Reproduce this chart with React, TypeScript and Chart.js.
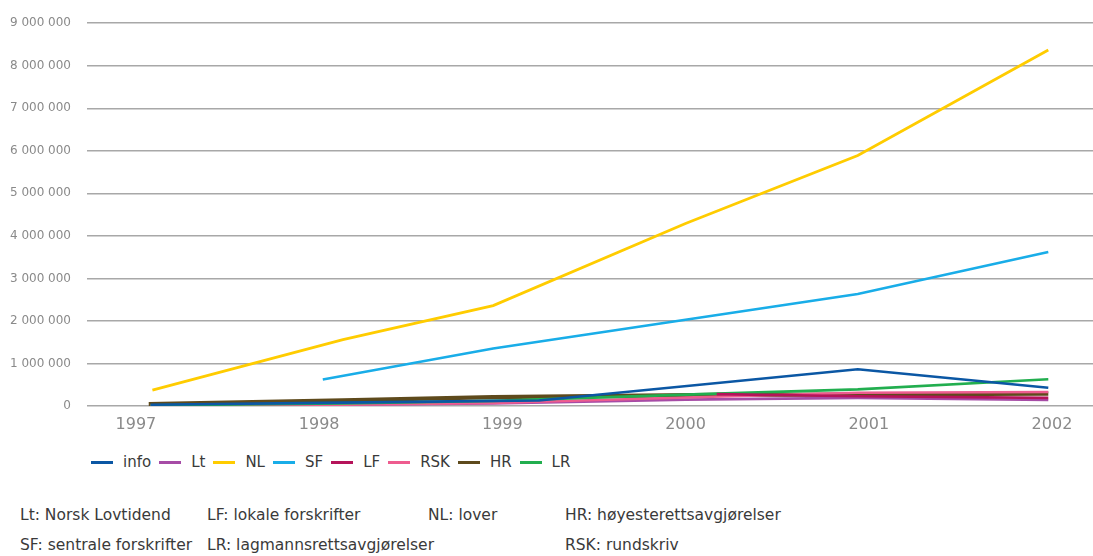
import React, { useEffect, useRef } from "react";
import { Chart, registerables } from "chart.js";

Chart.register(...registerables);

const seriesNames = ["info", "Lt", "NL", "SF", "LF", "RSK", "HR", "LR"];
const seriesColors = ["#0B57A4", "#A64CA6", "#FFCC00", "#19ADE8", "#B5135A", "#EE5C8F", "#5E4A1C", "#22AE4F"];

const infoX = [1997.08, 1998.13, 1998.95, 1999.2, 2000.94, 2001.98];
const infoY = [30000, 80000, 120000, 130000, 865000, 430000];
const ltX = [1997.13, 1998.13, 1998.95, 2000.0, 2000.94, 2001.98];
const ltY = [25000, 30000, 60000, 150000, 190000, 140000];
const nlX = [1997.09, 1998.13, 1998.95, 2000.0, 2000.94, 2001.98];
const nlY = [374000, 1560000, 2360000, 4290000, 5890000, 8370000];
const sfX = [1998.02, 1998.95, 2000.94, 2001.98];
const sfY = [624000, 1350000, 2634000, 3620000];
const lfX = [2000.17, 2000.94, 2001.98];
const lfY = [280000, 230000, 190000];
const rskX = [1997.08, 1998.13, 1998.95, 2000.0, 2000.94, 2001.98];
const rskY = [10000, 30000, 70000, 200000, 310000, 330000];
const hrX = [1997.07, 1998.13, 1998.95, 2000.17, 2000.94, 2001.98];
const hrY = [45000, 130000, 210000, 260000, 270000, 290000];
const lrX = [1997.08, 1998.13, 1998.95, 2000.17, 2000.94, 2001.98];
const lrY = [15000, 60000, 120000, 290000, 390000, 630000];

const xTickYears = [1997, 1998, 1999, 2000, 2001, 2002];
const yMax = 9000000;
const yStep = 1000000;

const footRow1 = ["Lt: Norsk Lovtidend", "LF: lokale forskrifter", "NL: lover", "HR: høyesterettsavgjørelser"];
const footRow2 = ["SF: sentrale forskrifter", "LR: lagmannsrettsavgjørelser", "", "RSK: rundskriv"];

const seriesX = [infoX, ltX, nlX, sfX, lfX, rskX, hrX, lrX];
const seriesY = [infoY, ltY, nlY, sfY, lfY, rskY, hrY, lrY];
const widths = [2.6, 2.6, 2.8, 2.6, 2.6, 2.6, 4.2, 2.6];
const orders = [2, 5, 1, 1, 0, 3, 4, 2];

const FONT = "'DejaVu Sans', sans-serif";

function fmt(v: number) {
  return String(v).replace(/\B(?=(\d{3})+(?!\d))/g, " ");
}

export default function App() {
  const ref = useRef<HTMLCanvasElement | null>(null);

  useEffect(() => {
    if (!ref.current) return;
    const datasets = seriesNames.map((name, i) => ({
      label: name,
      data: seriesX[i].map((x, j) => ({ x, y: seriesY[i][j] })),
      borderColor: seriesColors[i],
      backgroundColor: seriesColors[i],
      borderWidth: widths[i],
      pointRadius: 0,
      tension: 0,
      fill: false,
      order: orders[i],
    }));
    const chart = new Chart(ref.current, {
      type: "line",
      data: { datasets },
      options: {
        animation: false,
        responsive: false,
        maintainAspectRatio: false,
        layout: { padding: { top: 22, left: 0, right: 0, bottom: 0 } },
        plugins: { legend: { display: false }, tooltip: { enabled: false } },
        scales: {
          x: {
            type: "linear",
            min: 1996.733,
            max: 2002.224,
            afterBuildTicks: (s: any) => {
              s.ticks = xTickYears.map((v) => ({ value: v }));
            },
            afterFit: (s: any) => {
              s.height = 34;
            },
            grid: { display: false, drawTicks: false },
            border: { display: false },
            ticks: {
              color: "#8a8a8a",
              font: { family: FONT, size: 16 },
              padding: 9,
              maxRotation: 0,
              autoSkip: false,
              callback: (v: any) => String(v),
            },
          },
          y: {
            min: 0,
            max: yMax,
            afterFit: (s: any) => {
              s.width = 87;
            },
            grid: { color: "#a8a8a8", lineWidth: 1.5, drawTicks: false },
            border: { display: false },
            ticks: {
              stepSize: yStep,
              color: "#8a8a8a",
              font: { family: FONT, size: 12 },
              padding: 16,
              callback: (v: any) => fmt(Number(v)),
            },
          },
        },
      },
    });
    return () => chart.destroy();
  }, []);

  const footStyle: React.CSSProperties = {
    position: "absolute",
    fontFamily: FONT,
    fontSize: 15.5,
    color: "#3a3a3a",
    whiteSpace: "nowrap",
  };
  const cols = [20, 207, 428, 565];

  return (
    <div style={{ position: "absolute", left: 0, top: 0, width: 1093, height: 556, background: "#fff", overflow: "hidden" }}>
      <canvas ref={ref} width={1093} height={440} style={{ position: "absolute", left: 0, top: 0, width: 1093, height: 440 }} />
      <div style={{ position: "absolute", left: 91, top: 453, display: "flex", alignItems: "center", fontFamily: FONT, fontSize: 15, color: "#3a3a3a" }}>
        {seriesNames.map((n, i) => (
          <div key={n} style={{ display: "flex", alignItems: "center", marginRight: 8 }}>
            <span style={{ display: "inline-block", width: 22, height: 3, background: seriesColors[i], marginRight: 10 }} />
            <span>{n}</span>
          </div>
        ))}
      </div>
      {footRow1.map((t, i) => (
        <div key={"a" + i} style={{ ...footStyle, left: cols[i], top: 506 }}>{t}</div>
      ))}
      {footRow2.map((t, i) => (
        <div key={"b" + i} style={{ ...footStyle, left: cols[i], top: 536 }}>{t}</div>
      ))}
    </div>
  );
}
